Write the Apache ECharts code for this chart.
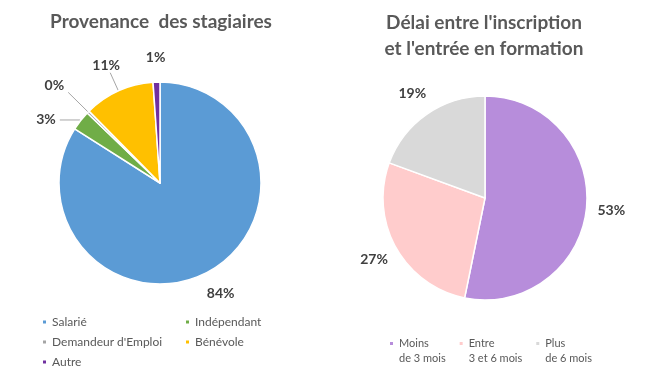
<!DOCTYPE html>
<html>
<head>
<meta charset="utf-8">
<script src="https://cdn.jsdelivr.net/npm/echarts@6/dist/echarts.min.js"></script>
<style>
  html, body { margin: 0; padding: 0; background: #fff; }
  #chart { width: 645px; height: 378px; }
</style>
</head>
<body>
<div id="chart"></div>
<script>
// ---- Data ----
const leftTitle = 'Provenance  des stagiaires';
const leftCategories = ['Salarié', 'Indépendant', "Demandeur d'Emploi", 'Bénévole', 'Autre'];
const leftValues = [84.0, 3.2, 0.4, 11.3, 1.1];

const rightTitle = "Délai entre l'inscription\net l'entrée en formation";
const rightCategories = ['Moins de 3 mois', 'Entre 3 et 6 mois', 'Plus de 6 mois'];
const rightValues = [53.2, 27.4, 19.4];

// ---- Styles ----
const leftColors = ['#5B9BD5', '#70AD47', '#A5A5A5', '#FFC000', '#7030A0'];
const rightColors = ['#B78DDB', '#FFCCCC', '#D9D9D9'];
const FONT = 'Lato, "Open Sans", sans-serif';
const labelStyle = { fontFamily: FONT, fontWeight: 'bold', fontSize: 14, color: '#404040' };
const pct = p => Math.round(p.percent) + '%';

// leader-line settings for small left slices (by index): length, length2, label alignment
const leftLeader = {
  1: { length: 1, length2: 20, align: 'right', verticalAlign: 'middle' },
  2: { length: 28, length2: 0, align: 'right', verticalAlign: 'bottom' },
  3: { length: 20, length2: 0, align: 'center', verticalAlign: 'bottom' }
};

const leftCenter = [160, 183], leftR = 101;
const rightCenter = [485, 198], rightR = 102;

const leftMain = leftCategories.map((n, i) => {
  const item = { name: n, value: leftValues[i] };
  const ld = leftLeader[i];
  if (ld) {
    item.label = { show: true };
    item.labelLine = { show: true, length: ld.length, length2: ld.length2 };
  }
  return item;
});
const leftOverlay = leftCategories.map((n, i) => ({
  name: n, value: leftValues[i],
  label: { show: !leftLeader[i] }
}));

const chart = echarts.init(document.getElementById('chart'), null, { renderer: 'canvas' });
chart.setOption({
  animation: false,
  backgroundColor: '#ffffff',
  title: [
    { text: leftTitle, left: 161, top: 12, textAlign: 'center', padding: 0,
      textStyle: { fontFamily: FONT, fontWeight: 'bold', fontSize: 19, color: '#595959' } },
    { text: rightTitle, left: 484, top: 10, textAlign: 'center', padding: 0,
      textStyle: { fontFamily: FONT, fontWeight: 'bold', fontSize: 19, lineHeight: 26, color: '#595959' } }
  ],
  legend: [
    { data: [leftCategories[0], leftCategories[2], leftCategories[4]], orient: 'vertical',
      left: 41, top: 315, padding: 0, itemWidth: 5, itemHeight: 5, itemGap: 6, icon: 'rect',
      selectedMode: false,
      textStyle: { fontFamily: FONT, fontSize: 12, color: '#595959', lineHeight: 14 } },
    { data: [leftCategories[1], leftCategories[3]], orient: 'vertical',
      left: 184, top: 315, padding: 0, itemWidth: 5, itemHeight: 5, itemGap: 6, icon: 'rect',
      selectedMode: false,
      textStyle: { fontFamily: FONT, fontSize: 12, color: '#595959', lineHeight: 14 } },
    { data: rightCategories, orient: 'horizontal',
      left: 388, top: 321, padding: 0, itemWidth: 5, itemHeight: 5, itemGap: 12, icon: 'rect',
      selectedMode: false,
      formatter: n => '\n' + n.replace(' ', '\n'),
      textStyle: { fontFamily: FONT, fontSize: 11, color: '#595959', lineHeight: 15 } }
  ],
  series: [
    {
      type: 'pie', center: leftCenter, radius: leftR, startAngle: 90, clockwise: true,
      avoidLabelOverlap: false, color: leftColors,
      itemStyle: { borderColor: '#ffffff', borderWidth: 1.5 },
      label: Object.assign({ show: false, position: 'outside', formatter: pct, distanceToLabelLine: 4 }, labelStyle),
      labelLine: { show: false, lineStyle: { color: '#A6A6A6', width: 1 } },
      labelLayout: p => {
        const ld = leftLeader[p.dataIndex];
        return ld ? { align: ld.align, verticalAlign: ld.verticalAlign } : {};
      },
      emphasis: { disabled: true },
      data: leftMain
    },
    {
      type: 'pie', center: leftCenter, radius: [leftR + 11, leftR + 33], startAngle: 90, clockwise: true,
      avoidLabelOverlap: false, silent: true, legendHoverLink: false,
      itemStyle: { color: 'rgba(0,0,0,0)' },
      label: Object.assign({ position: 'inside', formatter: pct }, labelStyle),
      labelLine: { show: false },
      emphasis: { disabled: true },
      data: leftOverlay
    },
    {
      type: 'pie', center: rightCenter, radius: rightR, startAngle: 90, clockwise: true,
      avoidLabelOverlap: false, color: rightColors,
      itemStyle: { borderColor: '#ffffff', borderWidth: 1.5 },
      label: { show: false },
      labelLine: { show: false },
      emphasis: { disabled: true },
      data: rightCategories.map((n, i) => ({ name: n, value: rightValues[i] }))
    },
    {
      type: 'pie', center: rightCenter, radius: [rightR + 11, rightR + 33], startAngle: 90, clockwise: true,
      avoidLabelOverlap: false, silent: true, legendHoverLink: false,
      itemStyle: { color: 'rgba(0,0,0,0)' },
      label: Object.assign({ show: true, position: 'inside', formatter: pct }, labelStyle),
      labelLine: { show: false },
      emphasis: { disabled: true },
      data: rightCategories.map((n, i) => ({ name: n, value: rightValues[i] }))
    }
  ]
});
</script>
</body>
</html>
